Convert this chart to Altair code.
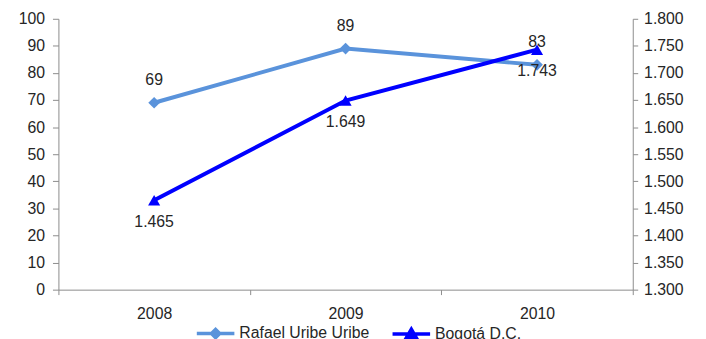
import altair as alt
import pandas as pd

years = ["2008", "2009", "2010"]
rafael = [69, 89, 83]
bogota = [1.465, 1.649, 1.743]
series_names = ["Rafael Uribe Uribe", "Bogotá D.C."]
colors = ["#5A93DB", "#0000FF"]

df_r = pd.DataFrame({"year": years, "value": rafael, "serie": series_names[0]})
df_b = pd.DataFrame({"year": years, "value": bogota, "serie": series_names[1]})

FONT = "Liberation Sans"
TXT = "#262626"
AX = "#8C8C8C"
FS = 16

x_enc = alt.X("year:N", bandPosition=0.5,
              scale=alt.Scale(type="band", paddingInner=0, paddingOuter=0),
              axis=alt.Axis(title=None, labelAngle=0, tickBand="extent", tickSize=5,
                            labelPadding=11, labelFontSize=FS, labelFont=FONT,
                            labelColor=TXT, domainColor=AX, tickColor=AX))

color_scale = alt.Scale(domain=series_names, range=colors)

diamond = "M-1,0L1,0M0,-0.22L0.22,0L0,0.22L-0.22,0Z"
triangle = "M-1,0L1,0M0,-0.25L0.25,0.18L-0.25,0.18Z"
shape_expr = f"datum.value === '{series_names[1]}' ? '{triangle}' : '{diamond}'"

legend = alt.Legend(
    title=None, orient="none", legendX=138, legendY=297, direction="horizontal",
    columns=2, columnPadding=16, labelOffset=3, padding=0,
    labelFontSize=FS, labelFont=FONT, labelColor=TXT, symbolSize=1444,
    symbolType=alt.ExprRef(expr=shape_expr),
    symbolStrokeColor=alt.ExprRef(expr="scale('color', datum.value)"),
    symbolFillColor=alt.ExprRef(expr="scale('color', datum.value)"),
    symbolStrokeWidth=3.5,
)

color_enc = alt.Color("serie:N", scale=color_scale, legend=legend)

# Rafael layer (left axis)
base_r = alt.Chart(df_r).encode(
    x=x_enc,
    y=alt.Y("value:Q", scale=alt.Scale(domain=[0, 100], nice=False),
            axis=alt.Axis(title=None, orient="left", tickCount=10, grid=False,
                          tickSize=6, labelPadding=8, labelFontSize=FS, labelFont=FONT,
                          labelColor=TXT, domainColor=AX, tickColor=AX)),
)
line_r = base_r.mark_line(strokeWidth=4).encode(color=color_enc)
pts_r = base_r.mark_point(shape="diamond", filled=True, size=140, opacity=1).encode(
    color=color_enc)
txt_r = base_r.mark_text(baseline="alphabetic", dy=-18, fontSize=FS, font=FONT,
                         color=TXT).encode(text=alt.Text("value:Q", format="d"))
layer_r = alt.layer(line_r, pts_r, txt_r)

# Bogota layer (right axis)
base_b = alt.Chart(df_b).encode(
    x=x_enc,
    y=alt.Y("value:Q", scale=alt.Scale(domain=[1.3, 1.8], nice=False),
            axis=alt.Axis(title=None, orient="right", tickCount=10, grid=False,
                          format=".3f", tickSize=5, labelPadding=6, labelFontSize=FS,
                          labelFont=FONT, labelColor=TXT, domainColor=AX, tickColor=AX)),
)
line_b = base_b.mark_line(strokeWidth=4).encode(color=color_enc)
pts_b = base_b.mark_point(shape="triangle-up", filled=True, size=150, opacity=1).encode(
    color=color_enc)
txt_b = base_b.mark_text(baseline="top", dy=14, fontSize=FS, font=FONT,
                         color=TXT).encode(text=alt.Text("value:Q", format=".3f"))
layer_b = alt.layer(line_b, pts_b, txt_b)

chart = alt.layer(layer_r, layer_b).resolve_scale(y="independent").properties(
    width=581, height=274,
    autosize=alt.AutoSizeParams(type="none"),
    padding={"left": 51, "top": 9, "right": 66, "bottom": 48},
    background="white",
).configure_view(stroke=None)

chart.save("out.html", embed_options={"renderer": "svg", "actions": False})
